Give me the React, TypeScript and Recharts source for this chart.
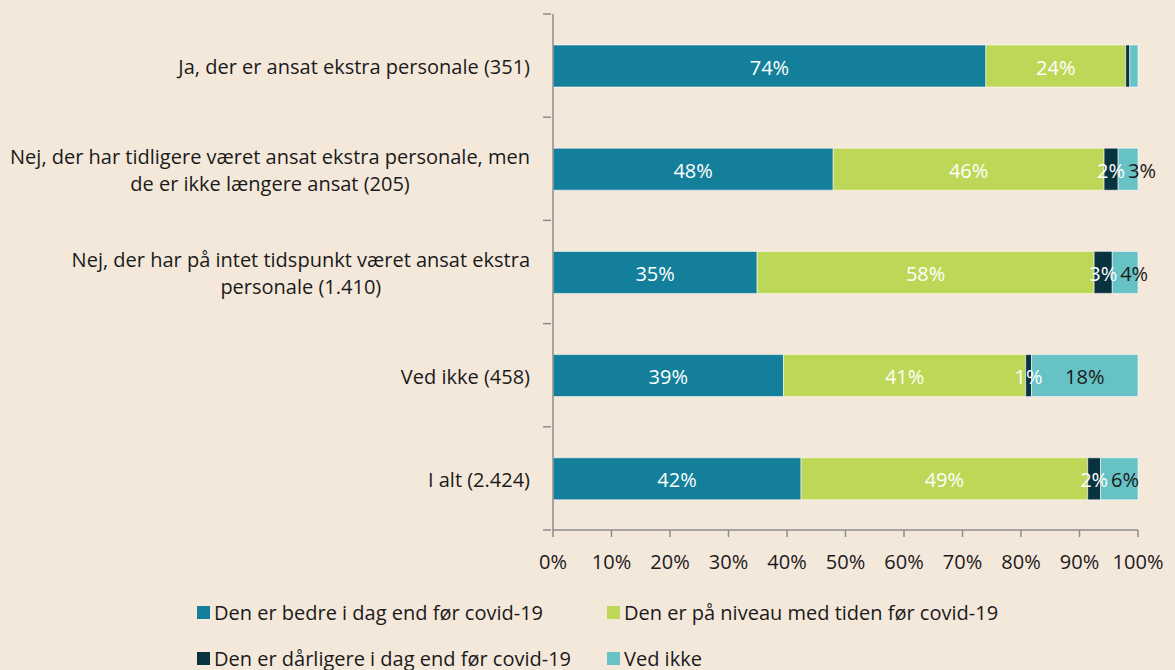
import React from 'react';
import { BarChart, Bar, XAxis, YAxis, LabelList } from 'recharts';

const categories = [
  'Ja, der er ansat ekstra personale (351)',
  'Nej, der har tidligere været ansat ekstra personale, men de er ikke længere ansat (205)',
  'Nej, der har på intet tidspunkt været ansat ekstra personale (1.410)',
  'Ved ikke (458)',
  'I alt (2.424)',
];
const categoryLines = [
  ['Ja, der er ansat ekstra personale (351)'],
  ['Nej, der har tidligere været ansat ekstra personale, men', 'de er ikke længere ansat (205)'],
  ['Nej, der har på intet tidspunkt været ansat ekstra', 'personale (1.410)'],
  ['Ved ikke (458)'],
  ['I alt (2.424)'],
];
const bedre = [74.0, 47.9, 34.9, 39.4, 42.4];
const niveau = [23.9, 46.3, 57.6, 41.4, 49.0];
const daarligere = [0.7, 2.4, 3.1, 1.0, 2.2];
const vedIkke = [1.4, 3.4, 4.4, 18.2, 6.4];
const xTicks = [0, 10, 20, 30, 40, 50, 60, 70, 80, 90, 100];

const seriesNames = [
  'Den er bedre i dag end før covid-19',
  'Den er på niveau med tiden før covid-19',
  'Den er dårligere i dag end før covid-19',
  'Ved ikke',
];
const seriesKeys = ['bedre', 'niveau', 'daarligere', 'vedIkke'];
const seriesColors = ['#137F9A', '#BDD756', '#0A3340', '#67C2C6'];
const labelColors = ['#FFFFFF', '#FFFFFF', '#FFFFFF', '#1A1A1A'];
const hiddenLabels: Record<string, number[]> = { daarligere: [0], vedIkke: [0] };

const BG = '#F4E8DB';
const AXIS = '#8C8C8C';
const TEXT = '#1A1A1A';
const FONT = '"Open Sans", "Noto Sans", sans-serif';
const FS = 20;

const W = 1175;
const H = 670;
const PLOT_TOP = 14;
const PLOT_BOTTOM = 530;
const PLOT_LEFT = 553;
const PLOT_RIGHT = 1138;

const data = categories.map((name, i) => ({
  name,
  bedre: bedre[i],
  niveau: niveau[i],
  daarligere: daarligere[i],
  vedIkke: vedIkke[i],
}));

let canvasCtx: CanvasRenderingContext2D | null = null;
function measure(text: string): number {
  if (!canvasCtx) {
    const c = document.createElement('canvas');
    canvasCtx = c.getContext('2d');
  }
  if (!canvasCtx) return text.length * FS * 0.5;
  canvasCtx.font = `${FS}px ${FONT}`;
  return canvasCtx.measureText(text).width;
}

const CatTick = (props: any) => {
  const { y, payload, index } = props;
  const idx = typeof index === 'number' ? index : categories.indexOf(payload.value);
  const lines = categoryLines[idx] || [payload.value];
  const blockW = Math.max(...lines.map(measure));
  const right = PLOT_LEFT - 23;
  const cx = right - blockW / 2;
  const lh = 27;
  const startY = y - ((lines.length - 1) * lh) / 2;
  const band = (PLOT_BOTTOM - PLOT_TOP) / categories.length;
  const axisX = PLOT_LEFT - 2;
  return (
    <g>
      <line x1={axisX - 8} x2={axisX} y1={y - band / 2} y2={y - band / 2} stroke={AXIS} strokeWidth={1.5} />
      {idx === categories.length - 1 && (
        <line x1={axisX - 8} x2={axisX} y1={y + band / 2} y2={y + band / 2} stroke={AXIS} strokeWidth={1.5} />
      )}
      {lines.map((l, i) => (
        <text
          key={i}
          x={cx}
          y={startY + i * lh + 1}
          textAnchor="middle"
          dominantBaseline="central"
          fill={TEXT}
          fontSize={FS}
          fontFamily={FONT}
        >
          {l}
        </text>
      ))}
    </g>
  );
};

const makeLabel = (key: string, color: string) => (props: any) => {
  const { x, y, width, height, value, index } = props;
  if ((hiddenLabels[key] || []).includes(index)) return null;
  const txt = `${Math.round(value)}%`;
  let cx = x + width / 2;
  if (key === 'vedIkke' && value > 0) {
    // avoid overlapping with the label of the preceding (dark) segment
    const pxPerUnit = width / value;
    const prevW = daarligere[index] * pxPerUnit;
    const prevCenter = x - prevW / 2;
    const prevRight = prevCenter + measure(`${Math.round(daarligere[index])}%`) / 2;
    cx = Math.max(cx, prevRight + 3 + measure(txt) / 2);
  }
  return (
    <text
      x={cx}
      y={y + height / 2 + 1}
      textAnchor="middle"
      dominantBaseline="central"
      fill={color}
      fontSize={FS}
      fontFamily={FONT}
    >
      {txt}
    </text>
  );
};

const legendRows = [
  [0, 1],
  [2, 3],
];
const legendCols = [197, 607];
const legendRowY = [612, 658];

export default function App() {
  return (
    <div style={{ position: 'fixed', left: 0, top: 0, width: W, height: H, background: BG, fontFamily: FONT, overflow: 'hidden' }}>
      <BarChart
        width={W}
        height={H}
        layout="vertical"
        data={data}
        margin={{ top: PLOT_TOP, right: W - PLOT_RIGHT, bottom: H - PLOT_BOTTOM - 30, left: 0 }}
        barSize={42}
      >
        <XAxis
          type="number"
          domain={[0, 100]}
          ticks={xTicks}
          interval={0}
          tickFormatter={(v: number) => `${v}%`}
          axisLine={{ stroke: AXIS, strokeWidth: 1.5 }}
          tickLine={{ stroke: AXIS, strokeWidth: 1.5 }}
          tickSize={7}
          tickMargin={18}
          tick={{ fill: TEXT, fontSize: FS, fontFamily: FONT }}
          height={30}
        />
        <YAxis
          type="category"
          dataKey="name"
          width={PLOT_LEFT}
          interval={0}
          axisLine={{ stroke: AXIS, strokeWidth: 1.5 }}
          tickLine={false}
          tick={<CatTick />}
        />
        {seriesKeys.map((k, i) => (
          <Bar
            key={k}
            dataKey={k}
            name={seriesNames[i]}
            stackId="a"
            fill={seriesColors[i]}
            stroke="rgba(255,255,255,0.55)"
            strokeWidth={1}
            isAnimationActive={false}
          >
            <LabelList dataKey={k} content={makeLabel(k, labelColors[i])} />
          </Bar>
        ))}
      </BarChart>
      {legendRows.map((row, r) =>
        row.map((s, c) => (
          <div
            key={`${r}-${c}`}
            style={{
              position: 'absolute',
              left: legendCols[c],
              top: legendRowY[r] - 14,
              height: 28,
              display: 'flex',
              alignItems: 'center',
              whiteSpace: 'nowrap',
              fontSize: FS,
              color: TEXT,
            }}
          >
            <span style={{ display: 'inline-block', width: 13, height: 13, background: seriesColors[s], marginRight: 4 }} />
            <span>{seriesNames[s]}</span>
          </div>
        ))
      )}
    </div>
  );
}
